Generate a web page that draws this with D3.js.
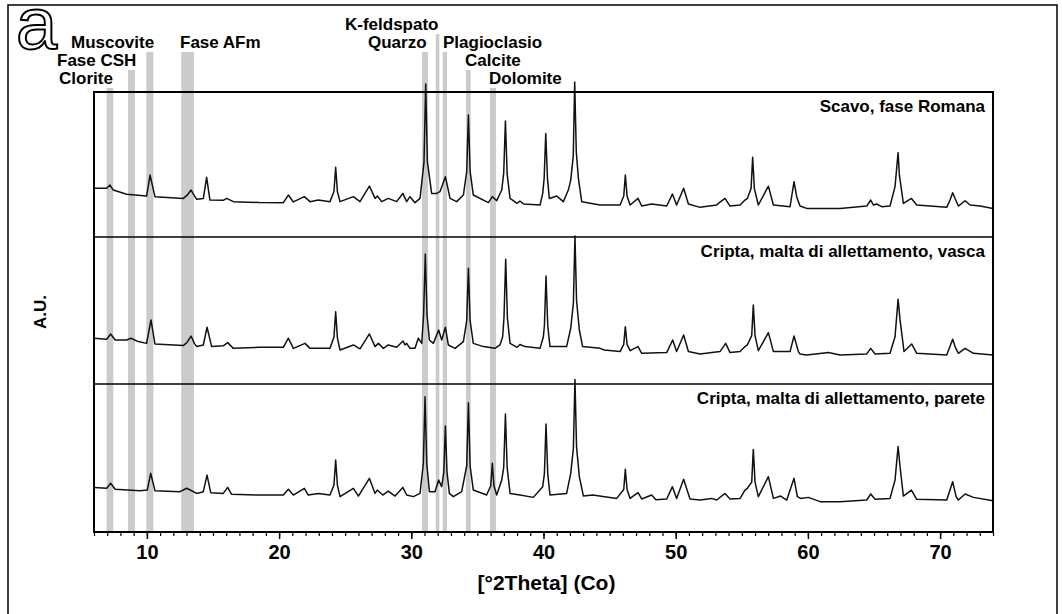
<!DOCTYPE html>
<html><head><meta charset="utf-8">
<script src="https://cdn.jsdelivr.net/npm/d3@7"></script>
<style>body{margin:0;background:#fff}svg{display:block}</style>
</head><body>
<svg id="c" width="1062" height="614"></svg>
<script>
// ---------------- DATA ----------------
const thetaDomain = [6, 74];
const xTickValues = [10, 20, 30, 40, 50, 60, 70];
const minorTickValues = d3.range(6, 75, 1);
const sampleNames = ["Scavo, fase Romana", "Cripta, malta di allettamento, vasca", "Cripta, malta di allettamento, parete"];
const mineralNames = ["Clorite", "Fase CSH", "Muscovite", "Fase AFm", "K-feldspato", "Quarzo", "Plagioclasio", "Calcite", "Dolomite"];
const mineralBands = [[6.96, 7.46], [8.57, 9.10], [9.96, 10.49], [12.6, 13.56], [31.85, 32.12], [30.81, 31.26], [32.38, 32.70], [34.14, 34.49], [35.95, 36.41]];

// [2Theta, intensity (A.U., 100 = panel height)]
const scavoRomana = [[6.0,33.2],[6.96,33.2],[7.21,35.4],[7.46,32.0],[8.47,29.1],[9.98,27.9],[10.24,42.2],[10.61,27.5],[12.76,26.3],[13.05,28.5],[13.34,32.0],[13.6,28.0],[13.77,25.7],[14.27,26.3],[14.52,40.7],[14.77,25.2],[15.78,25.0],[16.04,26.3],[16.54,24.1],[18.5,23.5],[20.32,23.4],[20.70,28.6],[21.08,23.9],[21.91,27.5],[22.34,24.1],[22.97,25.2],[23.85,24.1],[24.15,31],[24.28,47.5],[24.41,31],[24.61,24.1],[25.62,27.5],[26.12,24.1],[26.83,34.7],[27.26,26.3],[27.43,27.9],[27.76,24.1],[28.26,26.3],[28.89,24.1],[29.36,29.7],[29.65,24.1],[29.90,27.5],[30.28,23.4],[30.66,26.3],[30.96,51],[31.09,104.3],[31.22,51],[31.54,29.7],[31.92,29.7],[32.17,30.9],[32.58,41.1],[32.93,26.3],[33.43,24.1],[33.94,28.6],[34.19,44.5],[34.32,83.1],[34.45,44.5],[34.69,28.6],[35.83,23.4],[36.13,27.5],[36.46,24.7],[36.84,32.0],[36.99,43.5],[37.12,79.1],[37.25,43],[37.47,26.3],[38.0,23],[38.22,24.5],[38.5,22.5],[39.74,21.8],[39.94,29.7],[40.05,40],[40.17,70.6],[40.30,40],[40.44,26.3],[41.0,27.9],[41.50,24.1],[41.88,32.0],[42.06,38.8],[42.25,55],[42.36,105.7],[42.48,58],[42.64,40],[42.89,24.1],[44.28,21.8],[45.79,21.8],[46.07,28],[46.19,42.2],[46.32,28],[46.55,21.8],[47.15,26.3],[47.43,21.1],[48.18,22.5],[49.32,21.1],[49.75,29.3],[50.07,21.8],[50.60,33.2],[50.96,22.5],[51.84,20.2],[53.10,21.8],[53.30,23.4],[53.73,26.3],[54.11,21.1],[54.87,21.8],[55.24,25.2],[55.42,26.3],[55.70,33],[55.82,54.3],[55.95,33],[56.25,21.8],[57.01,34.7],[57.39,21.8],[58.65,20.7],[58.95,37.7],[59.15,27.5],[59.40,21.1],[59.91,19.5],[62.43,19.5],[64.45,21.1],[64.75,25.2],[64.95,21.8],[65.20,22.5],[65.58,20.7],[66.21,21.1],[66.59,34.3],[66.82,57.5],[66.92,42.2],[67.22,22.9],[67.83,26.3],[68.23,21.8],[70.50,20.2],[70.75,25.2],[70.95,30.2],[71.13,26.3],[71.38,21.1],[71.89,24.7],[72.26,21.8],[73.02,21.1],[74.0,19.5]];

const criptaVasca = [[6.0,31.2],[6.96,30.5],[7.26,34.1],[7.6,30.0],[8.47,30.0],[8.80,31.2],[9.35,28.9],[9.98,27.7],[10.31,43.7],[10.61,27.3],[12.76,26.2],[13.05,28.5],[13.34,32.7],[13.6,27.5],[13.77,25.5],[14.27,26.6],[14.55,38.7],[14.9,25.5],[15.78,26],[16.11,28.2],[16.54,24.3],[18.5,25.0],[20.32,25.0],[20.70,31.2],[21.08,24.3],[21.96,27.7],[22.34,24.3],[23.85,24.3],[24.15,32],[24.28,49.3],[24.41,31.5],[24.61,23.2],[25.62,26.6],[26.12,23.9],[26.83,34.1],[27.26,25.5],[27.51,27.7],[27.89,24.3],[28.26,26.6],[28.89,25.0],[29.38,29.3],[29.52,26.6],[29.65,27.7],[29.90,24.3],[30.28,24.3],[30.53,31.2],[30.79,27.7],[30.93,47],[31.06,88.6],[31.19,47],[31.37,30.0],[31.67,27.7],[32.07,36.8],[32.30,30.0],[32.58,38.7],[32.80,26.6],[33.31,24.3],[33.94,28.9],[34.19,43],[34.32,78.9],[34.45,43],[34.69,27.7],[35.45,25.5],[36.33,24.3],[36.71,26.6],[36.91,32.2],[37.01,45],[37.14,85],[37.27,45],[37.47,27.7],[38.0,25.0],[38.22,26.9],[38.60,25.5],[39.74,24.3],[39.99,32.2],[40.07,40],[40.19,73.6],[40.32,40],[40.49,25.5],[41.75,25.5],[42.06,38],[42.26,55],[42.38,100.9],[42.5,57],[42.71,36.8],[42.96,25.5],[44.28,24.3],[44.6,23.2],[45.79,22.1],[46.07,27],[46.19,39.1],[46.32,27],[46.55,22.7],[47.15,25.5],[47.43,20.9],[49.32,21.4],[49.77,30],[50.07,22.1],[50.60,33.4],[50.96,22.1],[51.84,20.5],[53.35,22.1],[53.78,27.7],[54.11,21.4],[54.87,22.1],[55.24,25.5],[55.42,26.6],[55.75,33],[55.87,53.9],[56.0,33],[56.25,22.7],[57.01,35],[57.39,22.1],[58.65,22.1],[58.95,32.7],[59.28,22.1],[59.40,20.5],[59.91,19.8],[61.55,21.4],[62.43,19.8],[64.45,20.5],[64.75,24.3],[65.08,20.5],[66.21,20.9],[66.59,32.2],[66.82,57.7],[66.97,43.7],[67.27,22.1],[67.85,27.3],[68.23,20.9],[70.50,19.8],[70.95,30.5],[71.13,25.5],[71.38,20.9],[71.89,24.3],[72.52,20.9],[74.0,19.8]];

const criptaParete = [[6.0,30.4],[6.96,29.8],[7.26,33.2],[7.6,29.1],[9.48,28.2],[10.03,28.6],[10.29,40],[10.61,28.2],[12.51,27.5],[13.01,29.8],[13.77,26.3],[14.27,27.5],[14.55,38.8],[14.83,26.8],[15.78,26.3],[16.11,30.4],[16.41,25.7],[18.5,25.2],[20.32,25.2],[20.70,29.1],[21.08,25.2],[21.91,29.8],[22.21,25.2],[22.97,26.3],[23.85,25.2],[24.15,32],[24.28,49.1],[24.41,32],[24.61,24.1],[25.62,29.8],[26.0,24.5],[26.83,36.6],[27.26,26.3],[27.43,28.6],[27.84,25.2],[28.26,27.9],[28.77,24.5],[29.36,30.4],[29.65,25.2],[30.16,24.1],[30.66,26.3],[30.91,46.5],[31.04,92.2],[31.17,46.5],[31.37,27.5],[31.79,27.5],[32.07,35.4],[32.30,30.9],[32.46,41],[32.58,72.2],[32.70,41],[32.88,26.3],[33.18,24.1],[33.81,27.5],[34.19,45],[34.32,88.1],[34.45,45],[34.69,28.6],[35.70,25.2],[36.01,31.5],[36.13,46.8],[36.25,31.5],[36.46,25.2],[36.84,35.4],[36.99,44],[37.12,80.4],[37.25,44],[37.47,26.3],[38.22,25.2],[39.23,23.6],[39.94,30.9],[40.07,40],[40.19,73.6],[40.32,40],[40.49,25.2],[41.75,26.3],[42.06,40],[42.26,57],[42.38,104],[42.5,58],[42.71,37.7],[43.02,24.5],[43.72,25.2],[45.54,22.9],[46.07,29],[46.19,42.7],[46.32,29],[46.55,22.9],[47.15,26.8],[47.43,22.5],[48.18,25.2],[48.5,22],[49.32,22.5],[49.75,30.9],[50.07,22.9],[50.60,35.9],[51.08,22.5],[51.84,21.8],[52.72,22.9],[53.10,21.8],[53.73,26.3],[54.11,22.5],[54.87,22.9],[55.24,28.6],[55.42,29.8],[55.75,34],[55.87,56.3],[56.0,34],[56.25,24.1],[57.01,37.7],[57.39,22.9],[57.94,24.5],[58.40,21.8],[58.95,36.6],[59.20,24.1],[59.45,22.9],[60.04,23.6],[60.92,20.7],[62.43,20.7],[64.45,21.8],[64.75,25.9],[65.08,22.3],[66.21,22.9],[66.59,35.4],[66.82,58.2],[66.97,44.5],[67.22,24.5],[67.83,28.6],[68.23,22.3],[70.50,21.8],[70.95,34.3],[71.21,24.1],[71.38,21.8],[71.89,25.9],[72.52,23.6],[74.0,21.3]];

const seriesList = [scavoRomana, criptaVasca, criptaParete];

// ---------------- LAYOUT ----------------
const FONT = '"Liberation Sans", Arial, Helvetica, sans-serif';
const plot = {left: 94, right: 993, top: 92, bottom: 532};
const panelEdges = [92, 237, 384, 532];
const panelPx = 146.7;
const mineralLabelPos = [[59, 84], [57, 66], [71, 48], [180, 48], [345, 30], [368, 48], [443, 48], [465, 66], [489, 84]];
const mineralBandTop = [88, 70, 52, 52, 34, 52, 52, 70, 88];

const svg = d3.select('#c');
svg.append('rect').attr('width', 1062).attr('height', 614).attr('fill', '#fff');

// outer border
svg.append('path').attr('d', 'M8,614V5H1057V614').attr('fill', 'none').attr('stroke', '#000').attr('stroke-width', 1.5);

const x = d3.scaleLinear().domain(thetaDomain).range([plot.left, plot.right]);

// bands
svg.append('g').selectAll('rect').data(mineralBands).join('rect')
  .attr('x', d => x(d[0])).attr('width', d => x(d[1]) - x(d[0]))
  .attr('y', (d, i) => mineralBandTop[i]).attr('height', (d, i) => plot.bottom - mineralBandTop[i])
  .attr('fill', '#cbcbcb');

// spectra
seriesList.forEach((s, i) => {
  const bottom = panelEdges[i + 1];
  const y = d3.scaleLinear().domain([0, 100]).range([bottom, bottom - panelPx]);
  const data = d3.sort(s, d => d[0]);
  const line = d3.line().x(d => x(d[0])).y(d => y(d[1])).curve(d3.curveLinear);
  svg.append('path').datum(data).attr('d', line)
    .attr('fill', 'none').attr('stroke', '#111').attr('stroke-width', 1.5).attr('stroke-linejoin', 'round');
});

// frame and dividers
svg.append('rect').attr('x', plot.left).attr('y', plot.top)
  .attr('width', plot.right - plot.left).attr('height', plot.bottom - plot.top)
  .attr('fill', 'none').attr('stroke', '#000').attr('stroke-width', 2);
svg.append('g').selectAll('line').data(panelEdges.slice(1, 3)).join('line')
  .attr('x1', plot.left).attr('x2', plot.right).attr('y1', d => d).attr('y2', d => d)
  .attr('stroke', '#000').attr('stroke-width', 1.3);

// axes
const minorAxis = d3.axisBottom(x).tickValues(minorTickValues).tickSize(4).tickFormat('');
const gMin = svg.append('g').attr('transform', `translate(0,${plot.bottom})`).call(minorAxis);
gMin.select('.domain').remove();
gMin.selectAll('line').attr('stroke', '#000').attr('stroke-width', 1.2);

const majorAxis = d3.axisBottom(x).tickValues(xTickValues).tickSize(7).tickPadding(6).tickFormat(d3.format('d'));
const gMaj = svg.append('g').attr('transform', `translate(0,${plot.bottom})`).call(majorAxis);
gMaj.select('.domain').remove();
gMaj.selectAll('line').attr('stroke', '#000').attr('stroke-width', 1.5);
gMaj.selectAll('text').attr('font-family', FONT).attr('font-weight', 'bold').attr('font-size', 20).attr('fill', '#000');

// axis titles
svg.append('text').attr('x', (plot.left + plot.right) / 2 + 3).attr('y', 590)
  .attr('text-anchor', 'middle').attr('font-family', FONT).attr('font-weight', 'bold').attr('font-size', 21)
  .text('[°2Theta] (Co)');
svg.append('text').attr('transform', 'translate(46,312) rotate(-90)')
  .attr('text-anchor', 'middle').attr('font-family', FONT).attr('font-weight', 'bold').attr('font-size', 17)
  .text('A.U.');

// sample names
sampleNames.forEach((n, i) => {
  svg.append('text').attr('x', 985).attr('y', panelEdges[i] + 20)
    .attr('text-anchor', 'end').attr('font-family', FONT).attr('font-weight', 'bold').attr('font-size', 17)
    .text(n);
});

// mineral labels
svg.append('g').selectAll('text').data(mineralNames).join('text')
  .attr('x', (d, i) => mineralLabelPos[i][0]).attr('y', (d, i) => mineralLabelPos[i][1])
  .attr('font-family', FONT).attr('font-weight', 'bold').attr('font-size', 17)
  .text(d => d);

// panel letter
svg.append('text').attr('x', 16).attr('y', 49)
  .attr('font-family', FONT).attr('font-size', 74)
  .attr('fill', '#fff').attr('stroke', '#000').attr('stroke-width', 2)
  .text('a');
</script>
</body></html>
